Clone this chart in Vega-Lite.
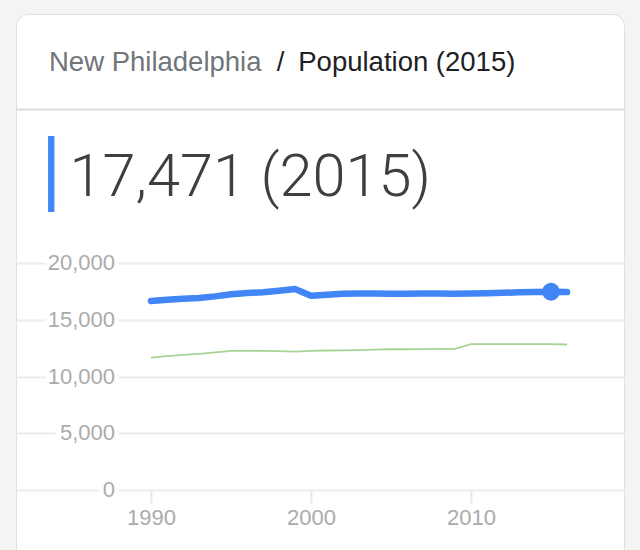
{
  "$schema": "https://vega.github.io/schema/vega-lite/v6.json",
  "autosize": {"type": "none"},
  "padding": {"left": 16, "top": 14, "right": 16, "bottom": 0},
  "width": 608,
  "height": 546,
  "background": "#f4f4f4",
  "config": {
    "view": {"fill": "white", "stroke": "#e0e0e0", "strokeWidth": 1, "cornerRadius": 12}
  },
  "title": {
    "text": "New Philadelphia",
    "subtitle": "\u200b\u2007\u2007\u2007\u2007\u2007\u2007\u2007\u2007\u2007\u2007\u2007\u2007\u2007\u2007\u2002/\u2002Population (2015)",
    "anchor": "start",
    "frame": "group",
    "orient": "top",
    "offset": -62,
    "dx": 33,
    "font": "Liberation Sans",
    "fontSize": 27.5,
    "fontWeight": "normal",
    "color": "#70757a",
    "subtitleFont": "Liberation Sans",
    "subtitleFontSize": 27.5,
    "subtitleFontWeight": "normal",
    "subtitleColor": "#202124",
    "subtitlePadding": -27.5
  },
  "datasets": {
    "pop": [
      {"year": 1990, "series": "New Philadelphia", "population": 16650},
      {"year": 1991, "series": "New Philadelphia", "population": 16760},
      {"year": 1992, "series": "New Philadelphia", "population": 16840},
      {"year": 1993, "series": "New Philadelphia", "population": 16910},
      {"year": 1994, "series": "New Philadelphia", "population": 17060},
      {"year": 1995, "series": "New Philadelphia", "population": 17250},
      {"year": 1996, "series": "New Philadelphia", "population": 17350},
      {"year": 1997, "series": "New Philadelphia", "population": 17430},
      {"year": 1998, "series": "New Philadelphia", "population": 17550},
      {"year": 1999, "series": "New Philadelphia", "population": 17700},
      {"year": 2000, "series": "New Philadelphia", "population": 17108},
      {"year": 2001, "series": "New Philadelphia", "population": 17200},
      {"year": 2002, "series": "New Philadelphia", "population": 17290},
      {"year": 2003, "series": "New Philadelphia", "population": 17320},
      {"year": 2004, "series": "New Philadelphia", "population": 17310},
      {"year": 2005, "series": "New Philadelphia", "population": 17290},
      {"year": 2006, "series": "New Philadelphia", "population": 17280},
      {"year": 2007, "series": "New Philadelphia", "population": 17320},
      {"year": 2008, "series": "New Philadelphia", "population": 17320},
      {"year": 2009, "series": "New Philadelphia", "population": 17300},
      {"year": 2010, "series": "New Philadelphia", "population": 17310},
      {"year": 2011, "series": "New Philadelphia", "population": 17330},
      {"year": 2012, "series": "New Philadelphia", "population": 17370},
      {"year": 2013, "series": "New Philadelphia", "population": 17420},
      {"year": 2014, "series": "New Philadelphia", "population": 17450},
      {"year": 2015, "series": "New Philadelphia", "population": 17471},
      {"year": 2016, "series": "New Philadelphia", "population": 17440},
      {"year": 1990, "series": "Comparison", "population": 11670},
      {"year": 1991, "series": "Comparison", "population": 11800},
      {"year": 1992, "series": "Comparison", "population": 11900},
      {"year": 1993, "series": "Comparison", "population": 12000},
      {"year": 1994, "series": "Comparison", "population": 12130},
      {"year": 1995, "series": "Comparison", "population": 12250},
      {"year": 1996, "series": "Comparison", "population": 12260},
      {"year": 1997, "series": "Comparison", "population": 12250},
      {"year": 1998, "series": "Comparison", "population": 12240},
      {"year": 1999, "series": "Comparison", "population": 12200},
      {"year": 2000, "series": "Comparison", "population": 12260},
      {"year": 2001, "series": "Comparison", "population": 12290},
      {"year": 2002, "series": "Comparison", "population": 12310},
      {"year": 2003, "series": "Comparison", "population": 12330},
      {"year": 2004, "series": "Comparison", "population": 12370},
      {"year": 2005, "series": "Comparison", "population": 12400},
      {"year": 2006, "series": "Comparison", "population": 12400},
      {"year": 2007, "series": "Comparison", "population": 12420},
      {"year": 2008, "series": "Comparison", "population": 12430},
      {"year": 2009, "series": "Comparison", "population": 12440},
      {"year": 2010, "series": "Comparison", "population": 12850},
      {"year": 2011, "series": "Comparison", "population": 12850},
      {"year": 2012, "series": "Comparison", "population": 12850},
      {"year": 2013, "series": "Comparison", "population": 12860},
      {"year": 2014, "series": "Comparison", "population": 12860},
      {"year": 2015, "series": "Comparison", "population": 12860},
      {"year": 2016, "series": "Comparison", "population": 12820}
    ],
    "yvals": [
      {"population": 0},
      {"population": 5000},
      {"population": 10000},
      {"population": 15000},
      {"population": 20000}
    ]
  },
  "encoding": {
    "y": {
      "field": "population",
      "type": "quantitative",
      "scale": {"domain": [-6167, 41938], "nice": false, "zero": false},
      "axis": {
        "values": [0, 5000, 10000, 15000, 20000, 33568],
        "domain": false,
        "ticks": false,
        "labels": false,
        "grid": true,
        "gridColor": {"condition": {"test": "datum.value > 30000", "value": "#dcdcdc"}, "value": "#ececec"},
        "gridWidth": 2,
        "title": "17,471 (2015)",
        "titleAngle": 0,
        "titleFont": "Roboto",
        "titleFontSize": 59.5,
        "titleFontWeight": 300,
        "titleColor": "#3c4043",
        "titleAlign": "left",
        "titleAnchor": "start",
        "titleBaseline": "alphabetic",
        "titleX": 53,
        "titleY": 181
      }
    }
  },
  "layer": [
    {
      "data": {"name": "pop"},
      "transform": [{"filter": "datum.series === 'Comparison'"}],
      "mark": {"type": "line", "color": "#a8d394", "strokeWidth": 1.8},
      "encoding": {
        "x": {
          "field": "year",
          "type": "quantitative",
          "scale": {"domain": [1981.5625, 2019.5625], "nice": false, "zero": false},
          "axis": {
            "orient": "bottom",
            "offset": -70,
            "values": [1990, 2000, 2010],
            "format": "d",
            "domain": false,
            "grid": false,
            "ticks": true,
            "tickColor": "#e6e6e6",
            "tickWidth": 2,
            "tickSize": 13,
            "labelFont": "Liberation Sans",
            "labelFontSize": 22,
            "labelColor": "#ababab",
            "labelPadding": 4,
            "title": "\u258f",
            "titleFont": "DejaVu Sans",
            "titleFontSize": 64,
            "titleFontWeight": "normal",
            "titleColor": "#4285f4",
            "titleAlign": "left",
            "titleAnchor": "start",
            "titleBaseline": "alphabetic",
            "titleX": 32,
            "titleY": -295
          }
        }
      }
    },
    {
      "data": {"name": "pop"},
      "transform": [{"filter": "datum.series === 'New Philadelphia'"}],
      "mark": {"type": "line", "color": "#4285f4", "strokeWidth": 6.5, "strokeCap": "round", "strokeJoin": "round"},
      "encoding": {"x": {"field": "year", "type": "quantitative"}}
    },
    {
      "data": {"name": "pop"},
      "transform": [{"filter": "datum.series === 'New Philadelphia' && datum.year === 2015"}],
      "mark": {"type": "circle", "color": "#4285f4", "size": 320, "opacity": 1},
      "encoding": {"x": {"field": "year", "type": "quantitative"}}
    },
    {
      "data": {"name": "yvals"},
      "mark": {"type": "text", "align": "right", "baseline": "middle", "font": "Liberation Sans", "fontSize": 22, "fill": "#ffffff", "stroke": "#ffffff", "strokeWidth": 9},
      "encoding": {
        "x": {"datum": 1987.75, "type": "quantitative"},
        "text": {"field": "population", "type": "quantitative", "format": ","}
      }
    },
    {
      "data": {"name": "yvals"},
      "mark": {"type": "text", "align": "right", "baseline": "middle", "font": "Liberation Sans", "fontSize": 22, "fill": "#ababab"},
      "encoding": {
        "x": {"datum": 1987.75, "type": "quantitative"},
        "text": {"field": "population", "type": "quantitative", "format": ","}
      }
    }
  ]
}
